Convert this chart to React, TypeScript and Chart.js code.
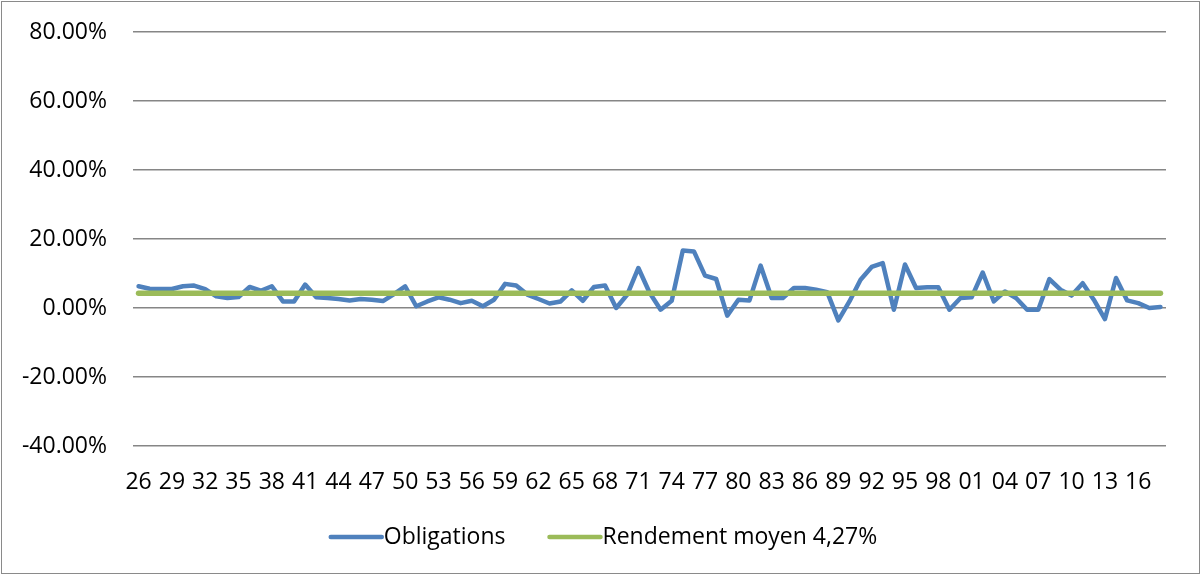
import React, { useEffect, useRef } from "react";
import { Chart, registerables } from "chart.js";

Chart.register(...registerables);

const categories: string[] = [
  "26", "27", "28", "29", "30", "31", "32", "33", "34", "35",
  "36", "37", "38", "39", "40", "41", "42", "43", "44", "45",
  "46", "47", "48", "49", "50", "51", "52", "53", "54", "55",
  "56", "57", "58", "59", "60", "61", "62", "63", "64", "65",
  "66", "67", "68", "69", "70", "71", "72", "73", "74", "75",
  "76", "77", "78", "79", "80", "81", "82", "83", "84", "85",
  "86", "87", "88", "89", "90", "91", "92", "93", "94", "95",
  "96", "97", "98", "99", "00", "01", "02", "03", "04", "05",
  "06", "07", "08", "09", "10", "11", "12", "13", "14", "15",
  "16", "17", "18",
];

const tickLabels: string[] = [
  "26", "29", "32", "35", "38", "41", "44", "47", "50", "53", "56", "59",
  "62", "65", "68", "71", "74", "77", "80", "83", "86", "89", "92", "95",
  "98", "01", "04", "07", "10", "13", "16",
];

const obligations: number[] = [
  6.3, 5.6, 5.5, 5.5, 6.3, 6.5, 5.5, 3.4, 2.9, 3.2,
  6.1, 5.0, 6.3, 1.9, 1.9, 6.8, 3.1, 2.9, 2.6, 2.2,
  2.6, 2.4, 2.0, 4.0, 6.3, 0.5, 1.9, 3.1, 2.4, 1.4,
  2.1, 0.5, 2.4, 7.0, 6.5, 3.9, 2.6, 1.3, 1.9, 5.1,
  2.1, 6.1, 6.5, 0.0, 3.9, 11.6, 4.5, -0.5, 2.1, 16.7,
  16.4, 9.4, 8.4, -2.2, 2.4, 2.2, 12.3, 2.9, 2.9, 5.8,
  5.8, 5.3, 4.6, -3.6, 1.9, 8.2, 11.9, 13.0, -0.5, 12.6,
  5.8, 6.0, 6.0, -0.5, 2.9, 3.1, 10.3, 1.9, 4.8, 2.9,
  -0.5, -0.5, 8.4, 5.3, 3.6, 7.2, 2.4, -3.2, 8.7, 2.2,
  1.4, 0.0, 0.3,
];

const averageReturn = 4.27;

const seriesNames: string[] = ["Obligations", "Rendement moyen 4,27%"];
const seriesColors: string[] = ["#4F81BD", "#9BBB59"];

const FONT = "'Open Sans', sans-serif";
const FONT_SIZE = 23;

const legendPlugin = {
  id: "excelLegend",
  afterDraw(chart: any) {
    const ctx = chart.ctx as CanvasRenderingContext2D;
    const datasets = chart.data.datasets;
    ctx.save();
    ctx.font = `${FONT_SIZE}px ${FONT}`;
    const lineLen = 55;
    const itemGap = 42;
    const widths = datasets.map((d: any) => lineLen + ctx.measureText(d.label).width);
    const total = widths.reduce((a: number, b: number) => a + b, 0) + itemGap * (datasets.length - 1);
    let x = 603 - total / 2;
    const y = 537;
    datasets.forEach((d: any, i: number) => {
      ctx.strokeStyle = d.borderColor;
      ctx.lineWidth = 4.5;
      ctx.lineCap = "round";
      ctx.beginPath();
      ctx.moveTo(x + 2, y);
      ctx.lineTo(x + lineLen - 2, y);
      ctx.stroke();
      ctx.fillStyle = "#000000";
      ctx.textBaseline = "middle";
      ctx.textAlign = "left";
      ctx.fillText(d.label, x + lineLen, y);
      x += widths[i] + itemGap;
    });
    ctx.restore();
  },
};

export default function App() {
  const canvasRef = useRef<HTMLCanvasElement | null>(null);

  useEffect(() => {
    document.body.style.margin = "0";
    const canvas = canvasRef.current;
    if (!canvas) return;
    const chart = new Chart(canvas, {
      type: "line",
      data: {
        labels: categories,
        datasets: [
          {
            label: seriesNames[0],
            data: obligations,
            borderColor: seriesColors[0],
            backgroundColor: seriesColors[0],
            borderWidth: 4.5,
            pointRadius: 0,
            tension: 0,
            borderJoinStyle: "round",
            borderCapStyle: "round",
            order: 1,
          },
          {
            label: seriesNames[1],
            data: categories.map(() => averageReturn),
            borderColor: seriesColors[1],
            backgroundColor: seriesColors[1],
            borderWidth: 5.5,
            pointRadius: 0,
            tension: 0,
            borderCapStyle: "round",
            order: 0,
          },
        ],
      },
      options: {
        animation: false,
        responsive: false,
        maintainAspectRatio: false,
        layout: { padding: { left: 0, right: 35, top: 32, bottom: 0 } },
        plugins: {
          legend: { display: false },
          tooltip: { enabled: false },
          title: { display: false },
        },
        scales: {
          x: {
            type: "category",
            offset: true,
            grid: { display: false, drawTicks: false },
            border: { display: false },
            ticks: {
              autoSkip: false,
              maxRotation: 0,
              minRotation: 0,
              padding: 23,
              color: "#000000",
              font: { family: FONT, size: FONT_SIZE },
              callback: (_v: any, idx: number) =>
                tickLabels.includes(categories[idx]) ? categories[idx] : "",
            },
            afterFit: (scale: any) => {
              scale.height = 129;
              scale.paddingLeft = 0;
              scale.paddingRight = 0;
            },
          },
          y: {
            min: -40,
            max: 80,
            grid: { color: "#868686", lineWidth: 1.6, drawTicks: false },
            border: { display: false },
            ticks: {
              stepSize: 20,
              padding: 26,
              color: "#000000",
              font: { family: FONT, size: FONT_SIZE },
              callback: (v: any) => Number(v).toFixed(2) + "%",
            },
            afterFit: (scale: any) => {
              scale.width = 133;
              scale.paddingTop = 0;
              scale.paddingBottom = 0;
            },
          },
        },
      },
      plugins: [legendPlugin],
    });
    return () => chart.destroy();
  }, []);

  return (
    <div style={{ position: "relative", width: 1201, height: 575, background: "#ffffff" }}>
      <canvas ref={canvasRef} width={1201} height={575} style={{ display: "block" }} />
      <div
        style={{
          position: "absolute",
          left: 1,
          top: 1,
          width: 1199,
          height: 573,
          boxSizing: "border-box",
          border: "1px solid #8a8a8a",
          pointerEvents: "none",
        }}
      />
    </div>
  );
}
